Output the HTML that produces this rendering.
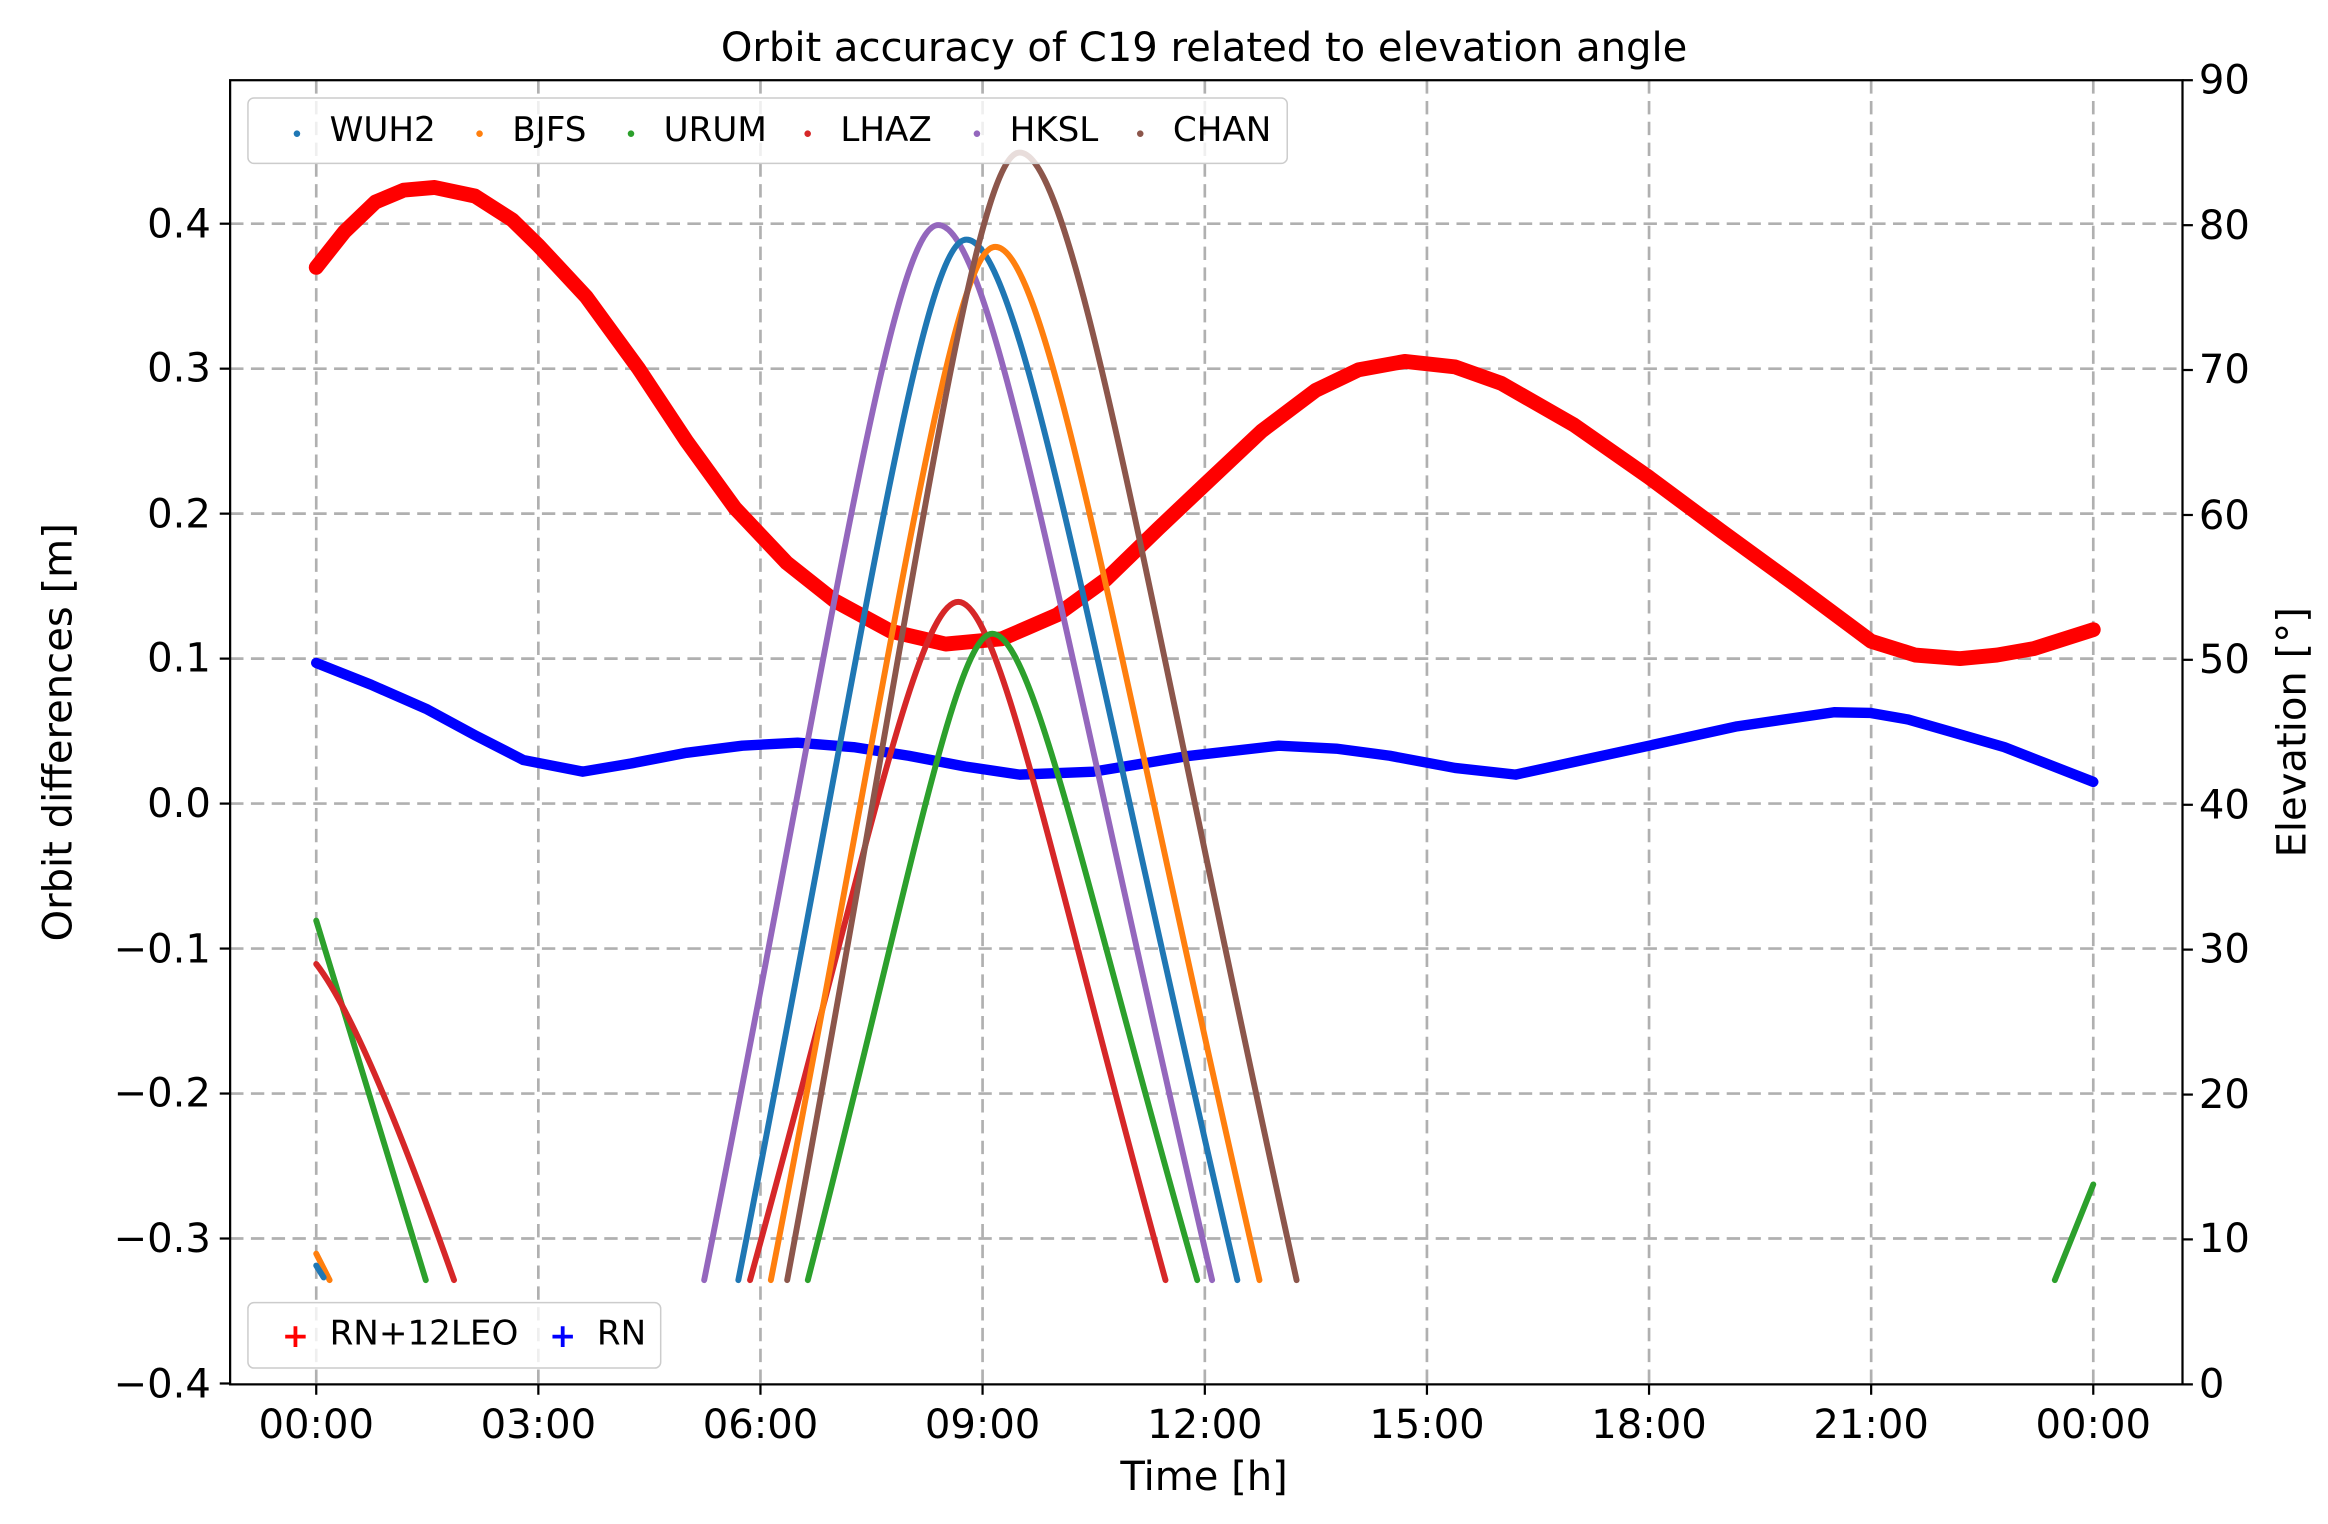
<!DOCTYPE html>
<html><head><meta charset="utf-8"><style>html,body{margin:0;padding:0;background:#fff}svg{display:block}</style></head>
<body>
<svg width="2328" height="1524" viewBox="0 0 1568 1026" preserveAspectRatio="none" xmlns="http://www.w3.org/2000/svg" font-family="'DejaVu Sans','Liberation Sans',sans-serif">
<rect width="1568" height="1026" fill="#fff"/>
<g stroke="#b0b0b0" stroke-width="1.8" stroke-dasharray="9,5" fill="none">
<line x1="213" y1="54" x2="213" y2="932"/><line x1="362.6" y1="54" x2="362.6" y2="932"/><line x1="512.2" y1="54" x2="512.2" y2="932"/><line x1="661.8" y1="54" x2="661.8" y2="932"/><line x1="811.5" y1="54" x2="811.5" y2="932"/><line x1="961.1" y1="54" x2="961.1" y2="932"/><line x1="1110.7" y1="54" x2="1110.7" y2="932"/><line x1="1260.3" y1="54" x2="1260.3" y2="932"/><line x1="1409.9" y1="54" x2="1409.9" y2="932"/>
<line x1="155" y1="150.6" x2="1470" y2="150.6"/><line x1="155" y1="248.2" x2="1470" y2="248.2"/><line x1="155" y1="345.8" x2="1470" y2="345.8"/><line x1="155" y1="443.4" x2="1470" y2="443.4"/><line x1="155" y1="541" x2="1470" y2="541"/><line x1="155" y1="638.6" x2="1470" y2="638.6"/><line x1="155" y1="736.2" x2="1470" y2="736.2"/><line x1="155" y1="833.8" x2="1470" y2="833.8"/>
</g>
<g fill="none" stroke-linejoin="round" stroke-linecap="round">
<polyline stroke="red" stroke-width="10" points="213,180 232,156 252.9,136 272,128 292.8,126.2 320,132 345,148 362.6,165.2 395,200 430,248 462.4,297 495,342 530,379 562.1,404.4 600,425 636.9,433.6 675,430 711.7,414.1 745,390 780,356 811.4,326.3 850,290 886.2,262.8 915,249 946.1,243.3 980,247 1011,258 1060,286 1110.7,321.4 1160,358 1210.4,394.6 1260.3,431.7 1290,441 1320.1,443.4 1345,441 1370,436.6 1409.9,423.9"/>
<polyline stroke="blue" stroke-width="7" points="213,446.3 250,461 287.8,477.6 320,495 352.6,511.7 392.5,519.5 425,514 462.4,506.8 500,502 537.2,500 575,503 612,508.8 650,516 686.8,521.5 736.6,519.5 800,509 861.3,502 900,504 936.1,508.8 980,517 1020.9,521.5 1060,513 1110.7,502 1170,489 1235.3,479.5 1260,480 1285.2,484.4 1350,503 1409.9,526.4"/>
<path stroke="#d62728" stroke-width="4" d="M505.2,861.8 C580.9,587.8 617.4,405.2 645.4,405.2 C673.3,405.2 709.6,587.8 785,861.8"/>
<path stroke="#2ca02c" stroke-width="4" d="M544.1,861.8 C611.2,600.7 643.5,426.6 668.3,426.6 C695.9,426.6 731.8,600.7 806.4,861.8"/>
<path stroke="#9467bd" stroke-width="4" d="M474.3,861.8 C559.4,435.6 600.4,151.5 631.9,151.5 C668.8,151.5 716.8,435.6 816.4,861.8"/>
<path stroke="#1f77b4" stroke-width="4" d="M497.3,861.8 C580.2,441.5 620.2,161.3 650.9,161.3 C687.4,161.3 734.8,441.5 833.4,861.8"/>
<path stroke="#ff7f0e" stroke-width="4" d="M519.2,861.8 C600.8,444.4 640.1,166.2 670.3,166.2 C705.9,166.2 752.2,444.4 848.3,861.8"/>
<path stroke="#8c564b" stroke-width="4" d="M530.2,861.8 C614.8,406.3 655.5,102.7 686.8,102.7 C724.1,102.7 772.6,406.3 873.3,861.8"/>
<path stroke="#2ca02c" stroke-width="4" d="M213,619.8 L286.8,861.8"/>
<path stroke="#d62728" stroke-width="4" d="M213,649 Q245,690 305.8,861.8"/>
<path stroke="#ff7f0e" stroke-width="4" d="M213,844 L222,861.8"/>
<path stroke="#1f77b4" stroke-width="4" d="M213,852 L218,860"/>
<path stroke="#2ca02c" stroke-width="4" d="M1384,861.8 L1409.9,797.4"/>
</g>
<rect x="155" y="54" width="1315" height="878" fill="none" stroke="#000" stroke-width="1.5"/>
<g stroke="#000" stroke-width="1.5">
<line x1="213" y1="932" x2="213" y2="939"/><line x1="362.6" y1="932" x2="362.6" y2="939"/><line x1="512.2" y1="932" x2="512.2" y2="939"/><line x1="661.8" y1="932" x2="661.8" y2="939"/><line x1="811.5" y1="932" x2="811.5" y2="939"/><line x1="961.1" y1="932" x2="961.1" y2="939"/><line x1="1110.7" y1="932" x2="1110.7" y2="939"/><line x1="1260.3" y1="932" x2="1260.3" y2="939"/><line x1="1409.9" y1="932" x2="1409.9" y2="939"/>
<line x1="148" y1="150.6" x2="155" y2="150.6"/><line x1="148" y1="248.2" x2="155" y2="248.2"/><line x1="148" y1="345.8" x2="155" y2="345.8"/><line x1="148" y1="443.4" x2="155" y2="443.4"/><line x1="148" y1="541" x2="155" y2="541"/><line x1="148" y1="638.6" x2="155" y2="638.6"/><line x1="148" y1="736.2" x2="155" y2="736.2"/><line x1="148" y1="833.8" x2="155" y2="833.8"/><line x1="148" y1="931.4" x2="155" y2="931.4"/>
<line x1="1470" y1="54" x2="1477" y2="54"/><line x1="1470" y1="151.6" x2="1477" y2="151.6"/><line x1="1470" y1="249.1" x2="1477" y2="249.1"/><line x1="1470" y1="346.7" x2="1477" y2="346.7"/><line x1="1470" y1="444.2" x2="1477" y2="444.2"/><line x1="1470" y1="541.8" x2="1477" y2="541.8"/><line x1="1470" y1="639.3" x2="1477" y2="639.3"/><line x1="1470" y1="736.9" x2="1477" y2="736.9"/><line x1="1470" y1="834.4" x2="1477" y2="834.4"/><line x1="1470" y1="932" x2="1477" y2="932"/>
</g>
<g font-size="27" fill="#000">
<g text-anchor="middle">
<text x="213" y="968">00:00</text><text x="362.6" y="968">03:00</text><text x="512.2" y="968">06:00</text><text x="661.8" y="968">09:00</text><text x="811.5" y="968">12:00</text><text x="961.1" y="968">15:00</text><text x="1110.7" y="968">18:00</text><text x="1260.3" y="968">21:00</text><text x="1409.9" y="968">00:00</text>
</g>
<g text-anchor="end">
<text x="142" y="160">0.4</text><text x="142" y="257">0.3</text><text x="142" y="355">0.2</text><text x="142" y="452">0.1</text><text x="142" y="550">0.0</text><text x="142" y="648">−0.1</text><text x="142" y="745">−0.2</text><text x="142" y="843">−0.3</text><text x="142" y="941">−0.4</text>
</g>
<text x="1481" y="63">90</text><text x="1481" y="161">80</text><text x="1481" y="258">70</text><text x="1481" y="356">60</text><text x="1481" y="453">50</text><text x="1481" y="551">40</text><text x="1481" y="648">30</text><text x="1481" y="746">20</text><text x="1481" y="843">10</text><text x="1481" y="941">0</text>
</g>
<text x="811" y="41" font-size="27" text-anchor="middle">Orbit accuracy of C19 related to elevation angle</text>
<text x="811" y="1003" font-size="27" text-anchor="middle">Time [h]</text>
<text transform="translate(48,493) rotate(-90)" font-size="27" text-anchor="middle">Orbit differences [m]</text>
<text transform="translate(1553,493) rotate(-90)" font-size="27" text-anchor="middle">Elevation [°]</text>
<g font-size="23">
<rect x="167" y="66" width="700" height="44" rx="4" fill="#fff" fill-opacity="0.8" stroke="#ccc"/>
<circle cx="200" cy="90" r="2.2" fill="#1f77b4"/><text x="222" y="95">WUH2</text>
<circle cx="323" cy="90" r="2.2" fill="#ff7f0e"/><text x="345" y="95">BJFS</text>
<circle cx="425" cy="90" r="2.2" fill="#2ca02c"/><text x="447" y="95">URUM</text>
<circle cx="544" cy="90" r="2.2" fill="#d62728"/><text x="566" y="95">LHAZ</text>
<circle cx="658" cy="90" r="2.2" fill="#9467bd"/><text x="680" y="95">HKSL</text>
<circle cx="768" cy="90" r="2.2" fill="#8c564b"/><text x="790" y="95">CHAN</text>
<rect x="167" y="877" width="278" height="44" rx="4" fill="#fff" fill-opacity="0.8" stroke="#ccc"/>
<text x="199" y="907" fill="red" font-size="22" text-anchor="middle" font-weight="bold">+</text><text x="222" y="905">RN+12LEO</text>
<text x="379" y="907" fill="blue" font-size="22" text-anchor="middle" font-weight="bold">+</text><text x="402" y="905">RN</text>
</g>
</svg>
</body></html>
